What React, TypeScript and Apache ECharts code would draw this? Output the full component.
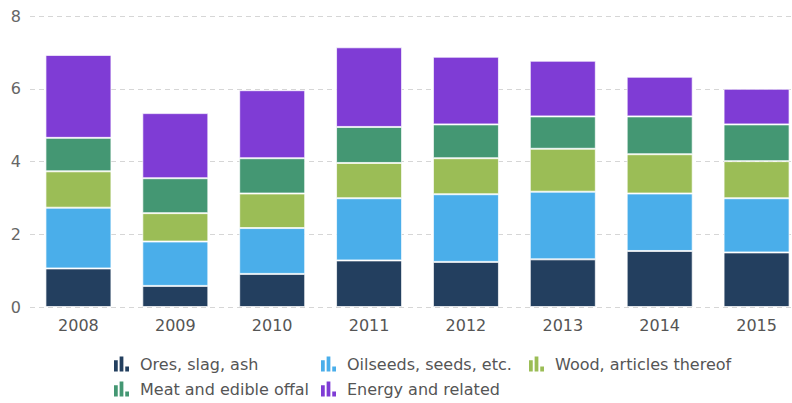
import React, { useEffect, useRef } from "react";
import * as echarts from "echarts";

const years = ["2008", "2009", "2010", "2011", "2012", "2013", "2014", "2015"];
const seriesNames = [
  "Ores, slag, ash",
  "Oilseeds, seeds, etc.",
  "Wood, articles thereof",
  "Meat and edible offal",
  "Energy and related",
];
const ores = [1.06, 0.58, 0.91, 1.28, 1.24, 1.31, 1.54, 1.5];
const oilseeds = [1.67, 1.22, 1.26, 1.71, 1.86, 1.86, 1.58, 1.49];
const wood = [1.0, 0.78, 0.95, 0.97, 0.99, 1.18, 1.08, 1.02];
const meat = [0.92, 0.96, 0.97, 0.99, 0.93, 0.89, 1.04, 1.01];
const energy = [2.28, 1.79, 1.87, 2.19, 1.86, 1.53, 1.09, 0.98];
const yTicks = { min: 0, max: 8, interval: 2 };

const colors = ["#233f5f", "#4aaeea", "#9bbd56", "#449773", "#7f3cd5"];
const values = [ores, oilseeds, wood, meat, energy];

const icon = "path://M0,3h3v9h-3z M4.5,0h3v12h-3z M9,8h3v4h-3z";

const legendPos = [
  { left: 109, top: 351 },
  { left: 316, top: 351 },
  { left: 524, top: 351 },
  { left: 109, top: 376 },
  { left: 316, top: 376 },
];

export default function App() {
  const ref = useRef<HTMLDivElement>(null);
  useEffect(() => {
    const chart = echarts.init(ref.current!, null, { renderer: "svg" });
    const font = "DejaVu Sans";
    chart.setOption({
      animation: false,
      color: colors,
      textStyle: { fontFamily: font },
      grid: {
        left: 30,
        width: 775,
        top: 16,
        bottom: 96,
        containLabel: false,
        outerBoundsMode: "none",
      },
      legend: seriesNames.map((n, i) => ({
        data: [n],
        left: legendPos[i].left,
        top: legendPos[i].top,
        icon,
        itemWidth: 15,
        itemHeight: 15,
        itemGap: 5,
        itemStyle: { borderWidth: 0 },
        textStyle: { fontFamily: font, fontSize: 16, color: "#555", padding: [0, 0, 0, 6] },
        selectedMode: false,
      })),
      xAxis: {
        type: "category",
        data: years,
        axisLine: { show: false },
        axisTick: { show: false },
        axisLabel: { color: "#555", fontSize: 16, margin: 10, fontFamily: font },
      },
      yAxis: {
        type: "value",
        min: yTicks.min,
        max: yTicks.max,
        interval: yTicks.interval,
        axisLine: { show: false },
        axisTick: { show: false },
        axisLabel: { color: "#666", fontSize: 16, margin: 9, fontFamily: font },
        splitLine: { lineStyle: { color: "#d6d6d6", type: [5, 4], width: 1 } },
      },
      series: seriesNames.map((n, i) => ({
        name: n,
        type: "bar",
        stack: "total",
        data: values[i],
        barWidth: 66,
        itemStyle: { color: colors[i], borderColor: "rgba(255,255,255,0.7)", borderWidth: 1 },
      })),
    });
    return () => chart.dispose();
  }, []);
  return (
    <div
      ref={ref}
      style={{ position: "absolute", left: 0, top: 0, width: 792, height: 403 }}
    />
  );
}
